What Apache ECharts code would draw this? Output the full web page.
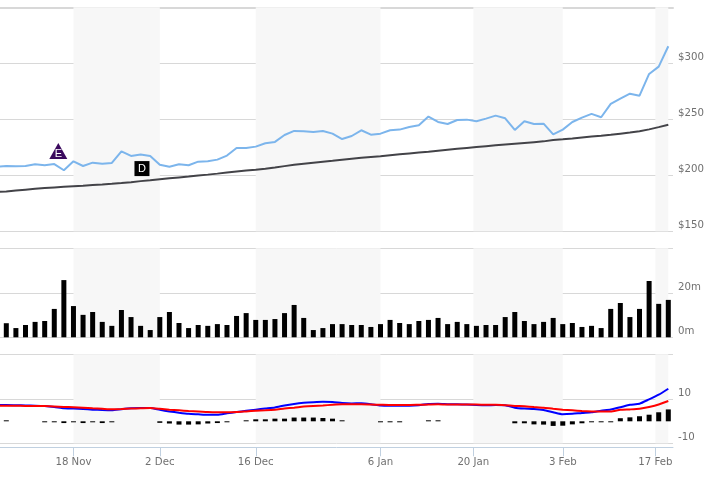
<!DOCTYPE html>
<html><head><meta charset="utf-8">
<script src="https://cdn.jsdelivr.net/npm/echarts@6/dist/echarts.min.js"></script>
<style>html,body{margin:0;padding:0;background:#fff}#c{width:709px;height:478px}</style></head>
<body><div id="c"></div>
<script>
// Session index -1 is the partly hidden session before the first full one.
const priceValues = [207.7,208.3,208,208.3,209.8,209,210,204.5,212.5,208.3,211.3,210.4,211,221.4,217.3,218.5,217.3,209.5,207.7,209.8,209,212.2,212.5,214,217.6,224.4,224.4,225.6,228.6,229.8,236,239.6,239.3,238.7,239.6,237.2,232.4,235.1,240.2,236.3,237.2,240.2,240.8,243.2,244.6,252.4,247.6,245.8,249.4,249.7,248.2,250.6,253.3,250.9,240.5,248.2,245.8,246.1,236.6,240.8,247.6,251.5,254.8,251.8,263.7,268.5,272.9,271.1,290.5,297,315.2];
const averageValues = [185,185.6,186.4,187.2,187.9,188.6,189.2,189.7,190.2,190.7,191.3,191.8,192.4,193.1,193.9,194.8,195.6,196.5,197.3,198.1,198.9,199.8,200.6,201.5,202.5,203.4,204.2,205,205.9,207,208.2,209.4,210.4,211.3,212.2,213,213.9,214.8,215.6,216.4,217.1,217.9,218.7,219.5,220.3,221.1,222,222.8,223.6,224.4,225.2,226,226.8,227.5,228.2,228.9,229.6,230.3,231.6,232.2,232.9,233.8,234.7,235.4,236.2,237.2,238.2,239.4,241,243,245.2];
const volumeValues = [6.4,4.2,5.6,7,7.4,12.9,26,14.2,10.2,11.5,7,5.2,12.4,9.2,5.2,3.3,9.2,11.5,6.5,4.2,5.6,5.2,6,5.6,9.7,11,7.9,7.9,8.3,11,14.7,8.8,3.3,4.2,6,6,5.6,5.6,4.7,6,7.9,6.5,6,7.4,7.9,8.8,6,7,6,5.2,5.6,5.6,9.2,11.5,7.4,6,7,8.8,6,6.5,4.7,5.2,4.2,12.9,15.6,9.2,12.9,25.6,15.2,17];
const macdValues = [7.4,7.4,7.3,7.2,7.1,6.9,6.5,5.9,5.8,5.6,5.3,5.1,5,5.5,5.9,6,6,5.2,4.5,3.9,3.4,3.2,3,3,3.6,4.2,4.8,5.3,5.8,6.3,7.2,7.9,8.4,8.7,8.9,8.8,8.3,8.1,8.2,7.8,7.2,7.1,7.1,7.1,7.3,7.9,8,7.8,7.7,7.6,7.4,7.3,7.4,7.3,6.2,5.8,5.6,5.1,4.1,3.2,3.4,3.8,4.1,4.8,5.4,6.4,7.5,8,10,12.1,14.8];
const signalValues = [7.1,7.1,7.1,7,7,6.9,6.7,6.5,6.4,6.2,5.9,5.7,5.5,5.6,5.8,5.9,6,5.7,5.3,5,4.7,4.5,4.2,4.1,4.1,4.2,4.5,4.8,5,5.3,5.8,6.2,6.7,7,7.2,7.5,7.7,7.7,7.7,7.6,7.5,7.4,7.4,7.4,7.5,7.6,7.7,7.6,7.6,7.6,7.6,7.5,7.5,7.3,7,6.8,6.5,6.2,5.7,5.3,5,4.7,4.5,4.4,4.4,5.2,5.4,5.7,6.5,7.6,9.2];
const histogramValues = [0.45,null,null,null,-0.45,-0.45,-0.8,-0.45,-0.8,-0.45,-0.8,-0.45,null,null,null,null,-0.7,-1,-1.5,-1.5,-1.4,-1,-0.8,-0.45,null,0.45,0.9,0.9,1.2,1.2,1.7,1.7,1.7,1.5,1.2,0.45,null,null,null,-0.45,-0.45,-0.45,null,null,0.45,0.45,null,null,null,null,null,null,null,-0.9,-0.9,-1.4,-1.5,-2.1,-2,-1.4,-0.9,-0.45,-0.45,-0.45,1.4,1.8,2.3,3,4.1,5.4];
const tickSessions = [7,16,26,39,48.68,58,67.65];
const tickLabels = ['18 Nov','2 Dec','16 Dec','6 Jan','20 Jan','3 Feb','17 Feb'];
const bandSessions = [[7,16],[26,39],[48.68,58],[67.65,69]];
const earningsFlag = {label:'E',session:5.42,price:221.7};
const dividendFlag = {label:'D',session:14.14,price:206};

const FONT='"DejaVu Sans"', FS=10.2, TXT='#707070', GRID='#d8d8d8';
const pairs=(vals,start)=>vals.map((v,i)=>[i+start,v]).filter(p=>p[1]!==null);
const bands={silent:true,itemStyle:{color:'#f7f7f7'},data:bandSessions.map(b=>[{xAxis:b[0]},{xAxis:b[1]}])};
const xBase=g=>({type:'value',gridIndex:g,min:-0.657,max:69.49,show:g===2,splitLine:{show:false},
  axisLine:{show:true,onZero:false,lineStyle:{color:'#c0d0e0'}},
  axisTick:{show:true,length:9,lineStyle:{color:'#c0d0e0'},customValues:tickSessions},
  axisLabel:{show:true,margin:10.5,color:TXT,fontFamily:FONT,fontSize:FS,customValues:tickSessions,hideOverlap:false,
    showMinLabel:true,showMaxLabel:true,formatter:v=>tickLabels[tickSessions.indexOf(v)]||''},
  offset:4});
const yBase=(g,min,max,lines,labels,fmt)=>({type:'value',gridIndex:g,position:'right',min,max,
  axisLine:{show:false},
  axisTick:{show:false,customValues:lines},
  splitLine:{show:true,lineStyle:{color:GRID,width:1}},
  axisLabel:{margin:5,color:TXT,fontFamily:FONT,fontSize:FS,verticalAlign:'bottom',lineHeight:11,customValues:labels,formatter:fmt}});
const flag=(f,symbol,size,color,off)=>({coord:[f.session,f.price],symbol,symbolSize:size,itemStyle:{color},
  label:{show:true,formatter:f.label,color:'#fff',fontFamily:'"Liberation Sans"',fontSize:11,position:'inside',offset:off}});

const chart=echarts.init(document.getElementById('c'),null,{renderer:'canvas'});
chart.setOption({
  animation:false,backgroundColor:'#fff',
  grid:[{left:0,right:36,top:7.3,height:224},{left:0,right:36,top:248.3,height:89},{left:0,right:36,top:354.3,height:89}],
  xAxis:[xBase(0),xBase(1),xBase(2),
    {type:'value',gridIndex:0,position:'top',min:0,max:1,axisLine:{show:true,onZero:false,lineStyle:{color:GRID,width:2}},axisTick:{show:false},axisLabel:{show:false},splitLine:{show:false}}],
  yAxis:[
    yBase(0,150,350,[150,200,250,300,350],[150,200,250,300],v=>'$'+v),
    yBase(1,0,40.45,[0,20,40.45],[0,20],v=>v+'m'),
    yBase(2,-10,30.45,[-10,10,30.45],[-10,10],v=>String(v))
  ],
  series:[
    {type:'line',name:'Price',xAxisIndex:0,yAxisIndex:0,data:pairs(priceValues,-1),symbol:'none',z:3,
     lineStyle:{color:'#7cb5ec',width:2},markArea:bands,
     markPoint:{silent:true,data:[flag(earningsFlag,'triangle',[18,16],'#3b0a5e',[0,3]),flag(dividendFlag,'rect',[15,15],'#000',[0,0])]}},
    {type:'line',name:'Average',xAxisIndex:0,yAxisIndex:0,data:pairs(averageValues,-1),symbol:'none',z:4,lineStyle:{color:'#434348',width:2}},
    {type:'bar',name:'Volume',xAxisIndex:1,yAxisIndex:1,data:pairs(volumeValues,0),barWidth:5,itemStyle:{color:'#000'},markArea:bands},
    {type:'bar',name:'Histogram',xAxisIndex:2,yAxisIndex:2,data:pairs(histogramValues,0),barWidth:5,itemStyle:{color:'#000'},markArea:bands},
    {type:'line',name:'MACD',xAxisIndex:2,yAxisIndex:2,data:pairs(macdValues,-1),symbol:'none',smooth:0.2,z:4,lineStyle:{color:'#0000ff',width:2}},
    {type:'line',name:'Signal',xAxisIndex:2,yAxisIndex:2,data:pairs(signalValues,-1),symbol:'none',smooth:0.2,z:5,lineStyle:{color:'#ff0000',width:2}}
  ]
});
</script></body></html>
